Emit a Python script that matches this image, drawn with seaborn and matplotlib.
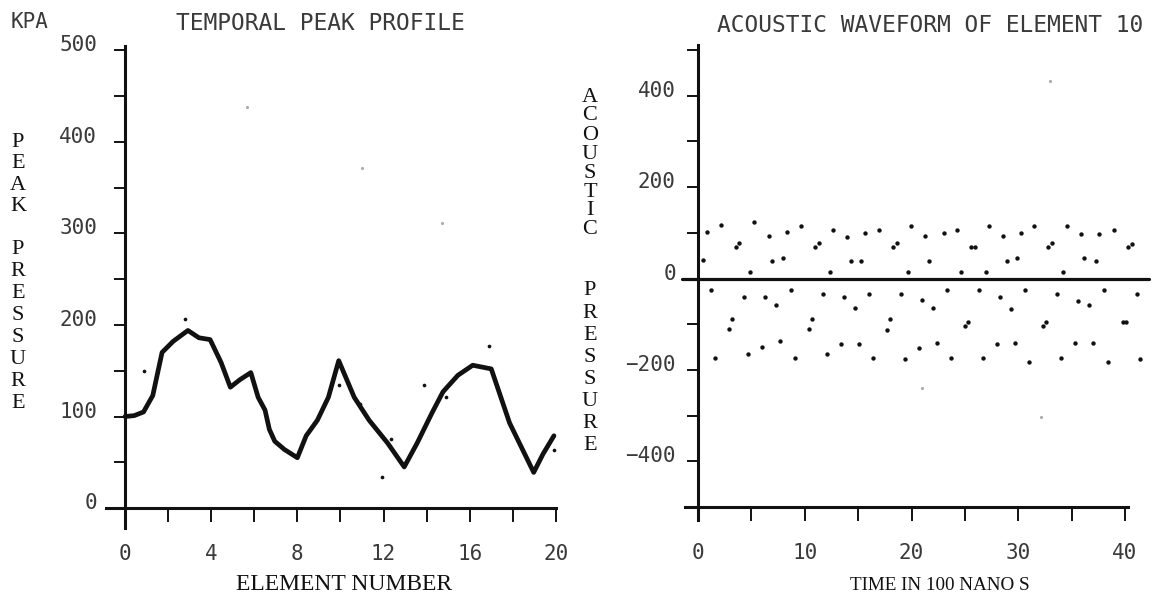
import matplotlib
matplotlib.use("Agg")
import matplotlib.pyplot as plt
import seaborn as sns
import pandas as pd
from matplotlib.ticker import MultipleLocator
from matplotlib.transforms import ScaledTranslation

# ---------------- data ----------------
element_number = [0, 0.43, 0.86, 1.29, 1.72, 2.23, 2.92, 3.43, 3.95, 4.46, 4.89, 5.32,
                  5.84, 6.18, 6.5, 6.7, 6.95, 7.4, 8.0, 8.41, 8.93, 9.44, 9.92, 10.64,
                  11.33, 12.19, 12.96, 13.56, 14.25, 14.76, 15.45, 16.14, 17.0, 17.85,
                  18.97, 19.4, 19.91]
peak_pressure = [100, 101, 105, 123, 170, 182, 194, 186, 184, 159, 132, 140,
                 148, 121, 107, 86, 73, 64, 55, 79, 96, 121, 161, 121,
                 96, 71, 45, 71, 104, 127, 145, 156, 152, 93,
                 39, 59, 79]

# stray dark dots near the profile curve
left_dots_x = [0.86, 2.8, 9.92, 10.9, 11.93, 12.36, 13.9, 14.9, 16.9, 19.9]
left_dots_y = [150, 207, 134, 114, 34, 75, 134, 121, 177, 64]
# faint specks
left_faint_x = [5.67, 11.0, 14.7]
left_faint_y = [438, 371, 311]

time_100ns = [0.5, 0.88, 1.25, 1.63, 2.19, 2.94, 3.22, 3.53, 3.88, 4.28, 4.69, 4.91,
              5.22, 6.0, 6.31, 6.66, 6.97, 7.31, 7.69, 7.97, 8.31, 8.69, 9.13, 9.63,
              10.4, 10.7, 11.0, 11.3, 11.7, 12.1, 12.35, 12.69, 13.4, 13.7, 14.0, 14.3,
              14.7, 15.06, 15.3, 15.66, 16.06, 16.4, 17.0, 17.7, 18.0, 18.3, 18.66, 19.03,
              19.4, 19.66, 19.94, 20.7,
              21.0, 21.3, 21.66, 22.0, 22.4, 23.0, 23.34, 23.72, 24.3, 24.66, 25.0, 25.3,
              25.6, 25.97, 26.3, 26.7, 26.97, 27.3, 28.0, 28.3, 28.6, 28.94, 29.3, 29.7,
              29.9, 30.25, 30.6, 31.0, 31.5, 32.3, 32.6, 32.8, 33.2, 33.6, 34.0, 34.2,
              34.56, 35.3, 35.6, 35.9, 36.2, 36.6, 37.0, 37.3, 37.6, 38.0, 38.4, 39.0,
              39.8, 40.1, 40.3, 40.7, 41.1, 41.4]
acoustic_pressure = [40, 101, -25, -173, 117, -110, -88, 69, 78, -40, -166, 15,
                     124, -150, -41, 93, 39, -57, -136, 46, 101, -25, -174, 115,
                     -111, -88, 69, 77, -34, -166, 15, 106, -143, -41, 92, 38,
                     -65, -143, 38, 100, -34, -174, 107, -112, -88, 68, 77, -34,
                     -175, 14, 115, -151,
                     -48, 93, 39, -64, -142, 100, -25, -174, 107, 15, -103, -95,
                     69, 69, -26, -174, 15, 116, -144, -41, 93, 39, -66, -142,
                     45, 100, -26, -183, 115, -103, -96, 69, 77, -34, -174, 15,
                     115, -142, -49, 98, 45, -58, -142, 39, 98, -26, -182, 106,
                     -96, -96, 68, 75, -34, -176]
right_faint_x = [33.0, 21.0, 32.1]
right_faint_y = [433, -240, -304]

left_ticklabels = ["0", "100", "200", "300", "400", "500"]

# ---------------- style ----------------
sns.set_theme(style="white")
MONO = ["DejaVu Sans Mono"]
SERIF = ["Liberation Serif", "DejaVu Serif"]
plt.rcParams["font.family"] = MONO

W, H = 1169, 599
fig = plt.figure(figsize=(W / 100, H / 100), dpi=100)
fig.patch.set_facecolor("white")


def fx(px):
    return px / W


def fy(py):
    return 1 - py / H


INK = "#111111"
TXT = "#3a3a3a"

# ---------------- left panel ----------------
ax1 = fig.add_axes([0.0885, 0.1135, 0.3944, 0.818])
df_left = pd.DataFrame({"element": element_number, "pressure": peak_pressure})
sns.lineplot(data=df_left, x="element", y="pressure", sort=False, estimator=None,
             color=INK, linewidth=3.4, ax=ax1)
sns.scatterplot(x=left_dots_x, y=left_dots_y, color=INK, s=7, linewidth=0, ax=ax1)
sns.scatterplot(x=left_faint_x, y=left_faint_y, color="#aaaaaa", s=5, linewidth=0, ax=ax1)
ax1.set_xlim(-1, 20.4)
ax1.set_ylim(-25, 510)
ax1.set_xlabel("")
ax1.set_ylabel("")

# ---------------- right panel ----------------
ax2 = fig.add_axes([0.5825, 0.123, 0.4036, 0.8087])
df_right = pd.DataFrame({"time": time_100ns, "pressure": acoustic_pressure})
sns.scatterplot(data=df_right, x="time", y="pressure", color=INK, s=10, linewidth=0, ax=ax2)
sns.scatterplot(x=right_faint_x, y=right_faint_y, color="#aaaaaa", s=5, linewidth=0, ax=ax2)
ax2.set_xlim(-1.6, 42.6)
ax2.set_ylim(-540, 520)
ax2.set_xlabel("")
ax2.set_ylabel("")
ax2.axhline(0, xmin=0.002, xmax=0.993, color=INK, linewidth=2.3, zorder=1)

for ax in (ax1, ax2):
    ax.set_facecolor("white")
    ax.grid(False)
    ax.spines["top"].set_visible(False)
    ax.spines["right"].set_visible(False)
    for s in ("left", "bottom"):
        ax.spines[s].set_color(INK)
        ax.spines[s].set_linewidth(2.2)

ax1.spines["left"].set_position(("data", 0))
ax1.spines["bottom"].set_position(("data", 0))
ax1.spines["left"].set_bounds(-22, 505)
ax1.spines["bottom"].set_bounds(-0.9, 20)
ax1.xaxis.set_major_locator(MultipleLocator(4))
ax1.xaxis.set_minor_locator(MultipleLocator(2))
ax1.yaxis.set_major_locator(MultipleLocator(100))
ax1.yaxis.set_minor_locator(MultipleLocator(50))

ax2.spines["left"].set_position(("data", 0))
ax2.spines["bottom"].set_position(("data", -500))
ax2.spines["left"].set_bounds(-528, 512)
ax2.spines["bottom"].set_bounds(-1.2, 40.3)
ax2.xaxis.set_major_locator(MultipleLocator(10))
ax2.xaxis.set_minor_locator(MultipleLocator(5))
ax2.set_yticks([-400, -200, 0, 200, 400])
ax2.yaxis.set_minor_locator(MultipleLocator(100))

for ax, ypad in ((ax1, 12), (ax2, 8)):
    ax.tick_params(axis="x", which="both", bottom=True, direction="out", length=10,
                   width=1.4, color=INK, pad=16, labelsize=15, labelcolor=TXT)
    ax.tick_params(axis="y", which="both", left=True, direction="out", length=8,
                   width=1.4, color=INK, pad=ypad, labelsize=15, labelcolor=TXT)

ax1.set_yticks([0, 100, 200, 300, 400, 500])
ax1.set_yticklabels(left_ticklabels)

# dot-matrix labels sit slightly above their ticks
for ax in (ax1, ax2):
    for t in ax.yaxis.get_major_ticks():
        t.label1.set_transform(t.label1.get_transform() +
                               ScaledTranslation(0, 5 / 72, fig.dpi_scale_trans))

# ---------------- texts ----------------
fig.text(fx(30), fy(22), "KPA", family=MONO, fontsize=15, color=TXT, ha="center", va="center")
fig.text(fx(320), fy(23), "TEMPORAL PEAK PROFILE", family=MONO, fontsize=16.5, color=TXT,
         ha="center", va="center")
fig.text(fx(930), fy(25), "ACOUSTIC WAVEFORM OF ELEMENT 10", family=MONO, fontsize=16.5,
         color=TXT, ha="center", va="center")

fig.text(fx(344), fy(585), "ELEMENT NUMBER", family=SERIF, fontsize=17, color=INK,
         ha="center", va="center")
fig.text(fx(940), fy(585), "TIME IN 100 NANO S", family=SERIF, fontsize=13.8, color=INK,
         ha="center", va="center")

left_letters = "PEAKPRESSURE"
left_pos = [143, 164, 186, 207, 250, 272, 294, 316, 338, 360, 382, 404]
for ch, py in zip(left_letters, left_pos):
    fig.text(fx(18), fy(py), ch, family=SERIF, fontsize=16, color=INK, ha="center", va="center")

right_letters = "ACOUSTICPRESSURE"
right_pos = [97, 116, 135, 154, 173, 192, 211, 230, 290, 313, 336, 358, 380, 401, 423, 445]
for ch, py in zip(right_letters, right_pos):
    fig.text(fx(590), fy(py), ch, family=SERIF, fontsize=16, color=INK, ha="center", va="center")

fig.savefig("out.png", dpi=100, facecolor="white")
